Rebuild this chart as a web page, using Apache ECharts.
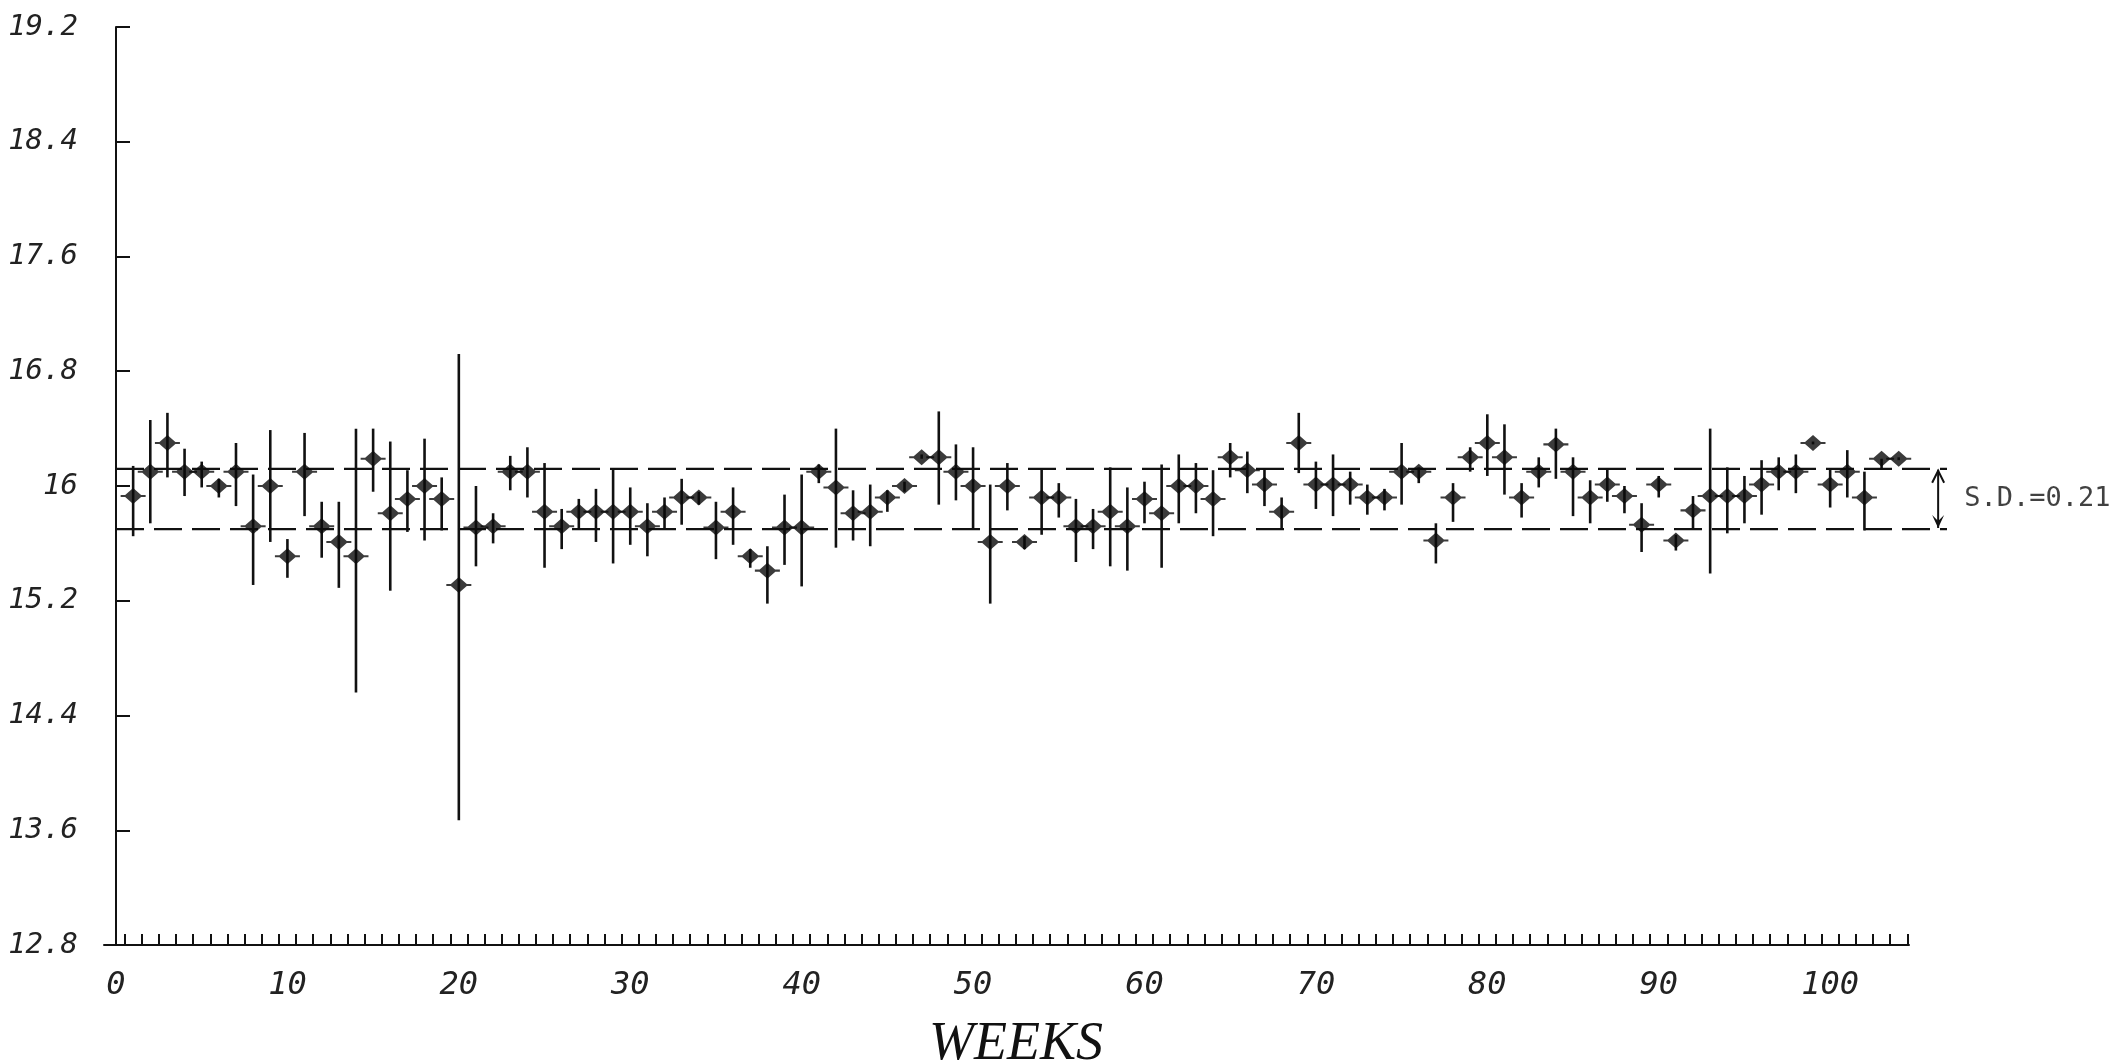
<!DOCTYPE html>
<html><head><meta charset="utf-8">
<script src="https://cdn.jsdelivr.net/npm/echarts@6/dist/echarts.min.js"></script>
<style>html,body{margin:0;padding:0;background:#fff;}#c{width:2116px;height:1061px;}</style>
</head><body><div id="c"></div>
<script>
const weeks = [1,2,3,4,5,6,7,8,9,10,11,12,13,14,15,16,17,18,19,20,21,22,23,24,25,26,27,28,29,30,31,32,33,34,35,36,37,38,39,40,41,42,43,44,45,46,47,48,49,50,51,52,53,54,55,56,57,58,59,60,61,62,63,64,65,66,67,68,69,70,71,72,73,74,75,76,77,78,79,80,81,82,83,84,85,86,87,88,89,90,91,92,93,94,95,96,97,98,99,100,101,102,103,104];
const means = [15.93,16.10,16.30,16.10,16.10,16.00,16.10,15.72,16.00,15.51,16.10,15.72,15.61,15.51,16.19,15.81,15.91,16.00,15.91,15.31,15.71,15.72,16.10,16.10,15.82,15.72,15.82,15.82,15.82,15.82,15.72,15.82,15.92,15.92,15.71,15.82,15.51,15.41,15.71,15.71,16.10,15.99,15.81,15.82,15.92,16.00,16.20,16.20,16.10,16.00,15.61,16.00,15.61,15.92,15.92,15.72,15.72,15.82,15.72,15.91,15.81,16.00,16.00,15.91,16.20,16.11,16.01,15.82,16.30,16.01,16.01,16.01,15.92,15.92,16.10,16.10,15.62,15.92,16.20,16.30,16.20,15.92,16.10,16.29,16.10,15.92,16.01,15.93,15.73,16.01,15.62,15.83,15.93,15.93,15.93,16.01,16.10,16.10,16.30,16.01,16.10,15.92,16.19,16.19];
const upper = [16.14,16.46,16.51,16.26,16.17,16.05,16.30,16.08,16.39,15.63,16.37,15.89,15.89,16.40,16.40,16.31,16.11,16.33,16.06,16.92,16.00,15.81,16.21,16.27,16.16,15.84,15.91,15.98,16.12,15.99,15.88,15.92,16.05,15.96,15.89,15.99,15.56,15.58,15.94,16.08,16.15,16.40,15.97,16.01,15.97,16.03,16.22,16.52,16.29,16.27,16.01,16.16,15.65,16.12,16.02,15.91,15.84,16.13,15.99,16.03,16.15,16.22,16.16,16.11,16.30,16.24,16.12,15.92,16.51,16.17,16.22,16.10,16.01,15.98,16.30,16.13,15.74,16.02,16.27,16.50,16.43,16.02,16.20,16.40,16.20,16.04,16.12,16.00,15.88,16.07,15.66,15.93,16.40,16.13,16.07,16.18,16.20,16.22,16.31,16.12,16.25,16.10,16.19,16.20];
const lower = [15.65,15.74,16.06,15.93,15.99,15.92,15.86,15.31,15.61,15.36,15.79,15.50,15.29,14.56,15.96,15.27,15.68,15.62,15.69,13.67,15.44,15.60,15.97,15.92,15.43,15.56,15.70,15.61,15.46,15.59,15.51,15.70,15.73,15.87,15.49,15.59,15.43,15.18,15.45,15.30,16.02,15.57,15.62,15.58,15.82,15.96,16.19,15.87,15.90,15.70,15.18,15.83,15.56,15.66,15.78,15.47,15.56,15.44,15.41,15.74,15.43,15.74,15.81,15.65,16.06,15.95,15.86,15.70,16.09,15.84,15.79,15.87,15.80,15.83,15.87,16.02,15.46,15.75,16.10,16.07,15.94,15.78,15.99,16.05,15.79,15.74,15.89,15.81,15.54,15.92,15.55,15.70,15.39,15.67,15.74,15.80,15.97,15.95,16.29,15.85,15.92,15.69,16.12,16.18];
const xLabels = [0,10,20,30,40,50,60,70,80,90,100];
const yLabels = [12.8,13.6,14.4,15.2,16,16.8,17.6,18.4,19.2];
const sdLines = [16.12, 15.70];
const sdArrowX = 106.3;
const sdText = 'S.D.=0.21';
const xTitle = 'WEEKS';

const chart = echarts.init(document.getElementById('c'), null, {renderer: 'canvas'});
const W = chart.getWidth();
const G = {left: 104, top: 27, right: 207, bottom: 116};
const XMIN = -0.7, XMAX = 104.6;
const ppw = (W - G.left - G.right) / (XMAX - XMIN);
const G2right = 169;
const XMAX2 = XMIN + (W - G.left - G2right) / ppw;

const tickVals = [];
for (let i = 0; i <= 104; i++) tickVals.push(i + 0.5);

const ink = '#111';
const labelFont = {fontFamily: 'DejaVu Sans Mono', fontStyle: 'italic', color: '#222'};

const scatterData = weeks.map((w, i) => [w, means[i]]);
const errData = weeks.map((w, i) => [w, lower[i], upper[i]]);

const markerPath = 'path://M8,0 L16,7 L8,14 L0,7 Z M-3,6.1 L19,6.1 L19,7.9 L-3,7.9 Z';

chart.setOption({
  animation: false,
  backgroundColor: '#fff',
  title: {
    text: xTitle, left: 1011, top: 1013, textAlign: 'center',
    textStyle: {fontFamily: 'Liberation Serif', fontStyle: 'italic', fontWeight: 'normal', fontSize: 54, color: '#111'}
  },
  grid: [
    {left: G.left, top: G.top, right: G.right, bottom: G.bottom, containLabel: false, outerBoundsMode: 'none'},
    {left: G.left, top: G.top, right: G2right, bottom: G.bottom, containLabel: false, outerBoundsMode: 'none'}
  ],
  xAxis: [
    {
      type: 'value', gridIndex: 0, min: XMIN, max: XMAX,
      axisLine: {show: true, lineStyle: {color: ink, width: 2}},
      axisTick: {show: true, inside: true, length: 11, customValues: tickVals, lineStyle: {color: ink, width: 2}},
      axisLabel: Object.assign({show: true, fontSize: 32, margin: 25, customValues: xLabels}, labelFont),
      splitLine: {show: false}
    },
    {type: 'value', gridIndex: 1, min: XMIN, max: XMAX2, show: false}
  ],
  yAxis: [
    {
      type: 'value', gridIndex: 0, min: 12.8, max: 19.2, interval: 0.8,
      axisLine: {show: true, lineStyle: {color: ink, width: 2}},
      axisTick: {show: true, inside: true, length: 14, lineStyle: {color: ink, width: 2}},
      axisLabel: Object.assign({show: true, fontSize: 29, margin: 26,
        formatter: v => { const r = Math.round(v * 10) / 10; return yLabels.indexOf(r) >= 0 ? String(r) : ''; }}, labelFont),
      splitLine: {show: false}
    },
    {type: 'value', gridIndex: 1, min: 12.8, max: 19.2, show: false}
  ],
  series: [
    {
      type: 'custom', xAxisIndex: 0, yAxisIndex: 0, data: errData,
      encode: {x: 0, y: [1, 2]},
      renderItem: function (params, api) {
        const a = api.coord([api.value(0), api.value(1)]);
        const b = api.coord([api.value(0), api.value(2)]);
        return {type: 'line', shape: {x1: a[0], y1: a[1], x2: b[0], y2: b[1]},
          style: {stroke: ink, lineWidth: 2.6}};
      },
      z: 2
    },
    {
      type: 'scatter', xAxisIndex: 0, yAxisIndex: 0, data: scatterData,
      symbol: markerPath, symbolSize: [25, 16],
      itemStyle: {color: '#0a0a0a'}, z: 3
    },
    {
      type: 'line', xAxisIndex: 1, yAxisIndex: 1, data: [[0, sdLines[0]], [XMAX2, sdLines[0]]],
      showSymbol: false, symbol: 'none', lineStyle: {color: ink, width: 2.2, type: [28, 10]}, z: 1, silent: true
    },
    {
      type: 'line', xAxisIndex: 1, yAxisIndex: 1, data: [[0, sdLines[1]], [XMAX2, sdLines[1]]],
      showSymbol: false, symbol: 'none', lineStyle: {color: ink, width: 2.2, type: [28, 10]}, z: 1, silent: true
    },
    {
      type: 'custom', xAxisIndex: 1, yAxisIndex: 1, data: [[sdArrowX, sdLines[1], sdLines[0]]],
      encode: {x: 0, y: [1, 2]},
      renderItem: function (params, api) {
        const lo = api.coord([api.value(0), api.value(1)]);
        const hi = api.coord([api.value(0), api.value(2)]);
        const x = lo[0];
        return {type: 'group', children: [
          {type: 'line', shape: {x1: x, y1: hi[1] + 1, x2: x, y2: lo[1] - 1}, style: {stroke: ink, lineWidth: 2}},
          {type: 'polyline', shape: {points: [[x - 6, hi[1] + 14], [x, hi[1] + 2], [x + 6, hi[1] + 14]]}, style: {stroke: ink, lineWidth: 2, fill: null}},
          {type: 'polygon', shape: {points: [[x - 6, lo[1] - 14], [x, lo[1] - 1], [x + 6, lo[1] - 14], [x, lo[1] - 8]]}, style: {fill: ink}}
        ]};
      },
      z: 2
    },
    {
      type: 'scatter', xAxisIndex: 1, yAxisIndex: 1,
      data: [[sdArrowX, (sdLines[0] + sdLines[1]) / 2]],
      symbolSize: 0,
      label: {show: true, position: 'right', distance: 26, formatter: sdText,
        fontFamily: 'DejaVu Sans Mono', fontSize: 27, color: '#111'},
      silent: true
    }
  ]
});
</script>
</body></html>
